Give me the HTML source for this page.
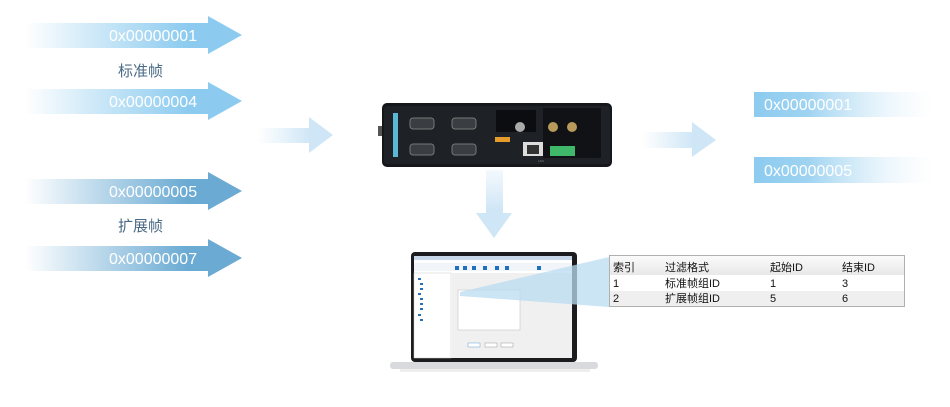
<!DOCTYPE html>
<html><head><meta charset="utf-8"><style>
html,body{margin:0;padding:0;background:#fff;width:950px;height:407px;overflow:hidden}
svg{display:block}
text{font-family:"Liberation Sans","Noto Sans CJK SC",sans-serif}
</style></head><body>
<svg width="950" height="407" viewBox="0 0 950 407" xmlns="http://www.w3.org/2000/svg">
<defs>
<linearGradient id="gt" x1="25" x2="242" gradientUnits="userSpaceOnUse"><stop offset="0" stop-color="#8ccbef" stop-opacity="0"/><stop offset="0.75" stop-color="#8ccbef"/><stop offset="1" stop-color="#8ccbef"/></linearGradient>
<linearGradient id="gb" x1="25" x2="242" gradientUnits="userSpaceOnUse"><stop offset="0" stop-color="#6aaad3" stop-opacity="0"/><stop offset="0.75" stop-color="#6aaad3"/><stop offset="1" stop-color="#6aaad3"/></linearGradient>
<linearGradient id="gm" x1="258" x2="333" gradientUnits="userSpaceOnUse"><stop offset="0" stop-color="#cfe6f6" stop-opacity="0"/><stop offset="0.7" stop-color="#cfe6f6"/></linearGradient>
<linearGradient id="gr" x1="642" x2="716" gradientUnits="userSpaceOnUse"><stop offset="0" stop-color="#cfe6f6" stop-opacity="0"/><stop offset="0.7" stop-color="#cfe6f6"/></linearGradient>
<linearGradient id="gd" x1="0" y1="168" x2="0" y2="238" gradientUnits="userSpaceOnUse"><stop offset="0" stop-color="#cfe6f6" stop-opacity="0.2"/><stop offset="0.6" stop-color="#cfe6f6"/></linearGradient>
<linearGradient id="gbox" x1="754" x2="935" gradientUnits="userSpaceOnUse"><stop offset="0" stop-color="#8ccbef"/><stop offset="0.3" stop-color="#9fd3f1"/><stop offset="1" stop-color="#e8f4fb" stop-opacity="0"/></linearGradient>
<linearGradient id="ghead" x1="0" y1="257" x2="0" y2="275" gradientUnits="userSpaceOnUse"><stop offset="0" stop-color="#fafafa"/><stop offset="1" stop-color="#e8e8e8"/></linearGradient>
</defs>

<!-- left arrows -->
<g font-size="16" fill="#fff">
<polygon points="25,23 208,23 208,16 242,35 208,54 208,48 25,48" fill="url(#gt)"/>
<text x="109" y="41">0x00000001</text>
<polygon points="25,89 208,89 208,82 242,101 208,120 208,114 25,114" fill="url(#gt)"/>
<text x="109" y="107">0x00000004</text>
<polygon points="25,179 208,179 208,172 242,191 208,210 208,204 25,204" fill="url(#gb)"/>
<text x="109" y="197">0x00000005</text>
<polygon points="25,246 208,246 208,239 242,258 208,277 208,271 25,271" fill="url(#gb)"/>
<text x="109" y="264">0x00000007</text>
</g>
<text x="118" y="76" font-size="15" fill="#4a6a85">标准帧</text>
<text x="118" y="231" font-size="15" fill="#4a6a85">扩展帧</text>

<!-- middle arrow -->
<polygon points="258,128 309,128 309,117 333,135 309,153 309,143 258,143" fill="url(#gm)"/>

<!-- device -->
<rect x="378" y="126" width="6" height="10" fill="#555"/>
<rect x="382" y="103" width="230" height="64" rx="5" fill="#15171b"/>
<rect x="384" y="106" width="226" height="58" rx="3" fill="#1e2126"/>
<rect x="393" y="113" width="5" height="44" fill="#5ab9d6"/>
<g fill="#3a3d42" stroke="#777" stroke-width="1">
<rect x="410" y="118" width="24" height="11" rx="3"/><rect x="452" y="118" width="24" height="11" rx="3"/>
<rect x="410" y="144" width="24" height="11" rx="3"/><rect x="452" y="144" width="24" height="11" rx="3"/>
</g>
<rect x="496" y="110" width="40" height="22" fill="#0c0d10"/>
<circle cx="520" cy="127" r="5" fill="#aaa"/>
<rect x="495" y="137" width="15" height="5" fill="#e59c2a"/>
<rect x="543" y="108" width="58" height="50" fill="#101215"/>
<circle cx="553" cy="127" r="5" fill="#b89a5a"/><circle cx="572" cy="127" r="5" fill="#b89a5a"/>
<rect x="523" y="142" width="20" height="14" fill="#ddd"/><rect x="527" y="145" width="12" height="9" fill="#333"/>
<rect x="550" y="146" width="25" height="10" fill="#3fb86a"/>
<text x="538" y="162" font-size="3" fill="#888">LAN</text>

<!-- right arrow and boxes -->
<polygon points="642,132 692,132 692,122 716,140 692,157 692,148 642,148" fill="url(#gr)"/>
<rect x="754" y="92" width="181" height="25" fill="url(#gbox)"/>
<text x="764" y="110" font-size="16" fill="#fff">0x00000001</text>
<rect x="754" y="157" width="181" height="26" fill="url(#gbox)"/>
<text x="764" y="176" font-size="16" fill="#fff">0x00000005</text>

<!-- down arrow -->
<polygon points="486,170 503,170 503,213 512,213 494,238 476,213 486,213" fill="url(#gd)"/>

<!-- laptop -->
<rect x="390" y="362" width="208" height="7" rx="3" fill="#d8dadd"/>
<rect x="400" y="369" width="190" height="3" fill="#eee"/>
<rect x="411" y="252" width="166" height="110" rx="4" fill="#1c1c1e"/>
<rect x="414" y="256" width="158" height="102" fill="#fff"/>
<rect x="414" y="256" width="158" height="4" fill="#c8d8ea"/>
<rect x="414" y="263" width="158" height="8" fill="#f1f4f8"/>
<rect x="414" y="273" width="37" height="85" fill="#fff" stroke="#ccc" stroke-width="0.5"/>
<rect x="452" y="273" width="120" height="85" fill="#f0f0f0"/>
<rect x="458" y="290" width="62" height="40" fill="#fff" stroke="#bbb" stroke-width="0.5"/>
<g fill="#2a6fb5"><rect x="418" y="278" width="3" height="2"/><rect x="420" y="283" width="3" height="2"/><rect x="420" y="288" width="3" height="2"/><rect x="418" y="293" width="3" height="2"/><rect x="420" y="298" width="3" height="2"/><rect x="420" y="303" width="3" height="2"/><rect x="420" y="308" width="3" height="2"/><rect x="418" y="314" width="3" height="2"/><rect x="420" y="319" width="3" height="2"/></g>
<g fill="#1f6fc0"><rect x="455" y="266" width="4" height="4"/><rect x="463" y="266" width="4" height="4"/><rect x="472" y="266" width="4" height="4"/><rect x="483" y="266" width="4" height="4"/><rect x="495" y="266" width="4" height="4"/><rect x="505" y="266" width="4" height="4"/><rect x="537" y="266" width="4" height="4"/></g>
<rect x="468" y="343" width="12" height="4" fill="#fff" stroke="#6a9fd4" stroke-width="0.5"/>
<rect x="485" y="343" width="12" height="4" fill="#fff" stroke="#999" stroke-width="0.5"/>
<rect x="501" y="343" width="12" height="4" fill="#fff" stroke="#999" stroke-width="0.5"/>

<!-- beam -->
<polygon points="460,292 609,257 609,307 460,296" fill="#b9dcf2" opacity="0.75"/>

<!-- table -->
<rect x="609.5" y="255.5" width="295" height="51" fill="#fff" stroke="#b0b0b0"/>
<rect x="610" y="256" width="294" height="19" fill="url(#ghead)"/>
<rect x="610" y="291" width="294" height="15" fill="#efefef"/>
<g font-size="11" fill="#111" font-family="'Liberation Mono','Noto Sans CJK SC',monospace">
<text x="613" y="271">索引</text><text x="665" y="271">过滤格式</text><text x="770" y="271">起始ID</text><text x="842" y="271">结束ID</text>
<text x="613" y="287">1</text><text x="665" y="287">标准帧组ID</text><text x="770" y="287">1</text><text x="842" y="287">3</text>
<text x="613" y="302">2</text><text x="665" y="302">扩展帧组ID</text><text x="770" y="302">5</text><text x="842" y="302">6</text>
</g>
</svg>
</body></html>
